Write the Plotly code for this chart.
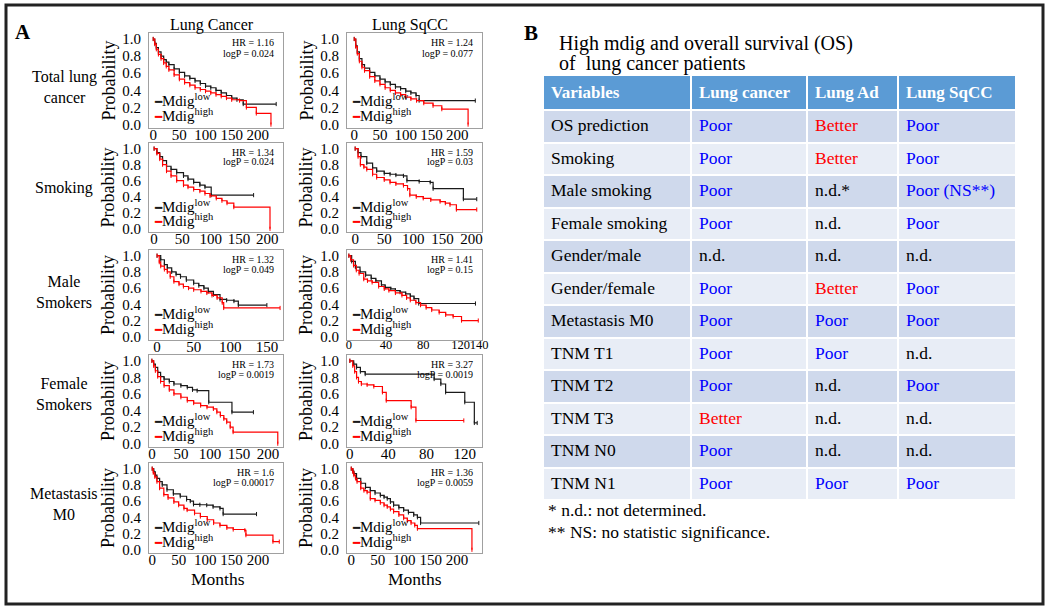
import plotly.graph_objects as go

W, H = 1050, 610
FONT = "Liberation Serif, Times New Roman, serif"

# ---------------- Panel A data (Kaplan-Meier step points, months / probability) ----------------
col_titles = ["Lung Cancer", "Lung SqCC"]
row_labels = ["Total lung<br>cancer", "Smoking", "Male<br>Smokers", "Female<br>Smokers", "Metastasis<br>M0"]

# Lung Cancer - Total
lc_total_low_t = [0, 3, 6, 10, 15, 20, 25, 30, 40, 50, 60, 70, 80, 90, 100, 110, 120, 130, 140, 150, 160, 172, 235]
lc_total_low_s = [1.0, 0.95, 0.90, 0.85, 0.80, 0.76, 0.73, 0.70, 0.65, 0.61, 0.57, 0.54, 0.51, 0.48, 0.45, 0.43, 0.40, 0.37, 0.34, 0.31, 0.29, 0.24, 0.24]
lc_total_high_t = [0, 3, 6, 10, 15, 20, 25, 30, 40, 50, 60, 70, 80, 90, 100, 110, 120, 130, 140, 150, 165, 178, 197, 225]
lc_total_high_s = [1.0, 0.94, 0.88, 0.82, 0.77, 0.72, 0.68, 0.64, 0.58, 0.53, 0.49, 0.46, 0.43, 0.41, 0.39, 0.37, 0.35, 0.33, 0.31, 0.29, 0.28, 0.20, 0.13, 0.0]
# Lung SqCC - Total
sq_total_low_t = [0, 3, 6, 10, 15, 20, 30, 40, 50, 60, 70, 80, 90, 100, 110, 120, 126, 235]
sq_total_low_s = [1.0, 0.92, 0.85, 0.77, 0.70, 0.66, 0.61, 0.57, 0.53, 0.50, 0.47, 0.44, 0.42, 0.39, 0.37, 0.34, 0.28, 0.28]
sq_total_high_t = [0, 3, 6, 10, 15, 20, 30, 40, 50, 60, 70, 80, 90, 100, 110, 121, 135, 153, 170, 221]
sq_total_high_s = [1.0, 0.91, 0.83, 0.74, 0.67, 0.63, 0.56, 0.51, 0.47, 0.43, 0.40, 0.37, 0.35, 0.32, 0.30, 0.28, 0.25, 0.22, 0.18, 0.0]
# Lung Cancer - Smoking
lc_smk_low_t = [0, 5, 10, 15, 22, 30, 40, 52, 60, 70, 81, 90, 101, 176]
lc_smk_low_s = [1.0, 0.95, 0.90, 0.85, 0.78, 0.74, 0.70, 0.66, 0.62, 0.58, 0.545, 0.52, 0.42, 0.42]
lc_smk_high_t = [0, 5, 10, 15, 22, 30, 40, 52, 60, 70, 81, 90, 99, 110, 120, 129, 141, 205]
lc_smk_high_s = [1.0, 0.94, 0.87, 0.80, 0.72, 0.66, 0.60, 0.545, 0.52, 0.49, 0.47, 0.44, 0.41, 0.38, 0.35, 0.32, 0.27, 0.0]
# Lung SqCC - Smoking
sq_smk_low_t = [0, 5, 10, 20, 30, 37, 50, 60, 70, 83, 89, 110, 129, 134, 186, 209]
sq_smk_low_s = [1.0, 0.95, 0.90, 0.82, 0.76, 0.72, 0.69, 0.68, 0.67, 0.66, 0.60, 0.59, 0.58, 0.50, 0.37, 0.37]
sq_smk_high_t = [0, 5, 9, 15, 20, 30, 37, 50, 60, 70, 83, 90, 94, 105, 117, 130, 146, 155, 163, 174, 209]
sq_smk_high_s = [1.0, 0.90, 0.80, 0.77, 0.74, 0.68, 0.64, 0.61, 0.58, 0.56, 0.54, 0.50, 0.42, 0.40, 0.38, 0.36, 0.34, 0.32, 0.30, 0.24, 0.24]
# Lung Cancer - Male smokers
lc_male_low_t = [0, 5, 10, 14, 20, 26, 32, 40, 50, 57, 64, 70, 77, 86, 95, 105, 111, 150]
lc_male_low_s = [1.0, 0.95, 0.89, 0.85, 0.80, 0.77, 0.74, 0.70, 0.66, 0.63, 0.60, 0.56, 0.52, 0.46, 0.45, 0.44, 0.39, 0.39]
lc_male_high_t = [0, 3, 5, 10, 14, 18, 23, 30, 36, 43, 50, 60, 68, 75, 82, 89, 91, 168]
lc_male_high_s = [1.0, 0.92, 0.87, 0.83, 0.80, 0.74, 0.68, 0.65, 0.62, 0.60, 0.58, 0.56, 0.54, 0.51, 0.48, 0.42, 0.355, 0.355]
# Lung SqCC - Male smokers
sq_male_low_t = [0, 3, 7, 12, 18, 24, 29, 35, 39, 45, 50, 55, 61, 66, 70, 75, 136]
sq_male_low_s = [1.0, 0.93, 0.86, 0.80, 0.76, 0.72, 0.69, 0.64, 0.61, 0.59, 0.57, 0.55, 0.53, 0.50, 0.47, 0.41, 0.41]
sq_male_high_t = [0, 2, 5, 8, 11, 16, 20, 25, 32, 38, 43, 50, 57, 62, 66, 72, 77, 83, 89, 97, 104, 112, 121, 139]
sq_male_high_s = [1.0, 0.95, 0.88, 0.82, 0.78, 0.71, 0.69, 0.67, 0.62, 0.59, 0.57, 0.54, 0.51, 0.48, 0.45, 0.42, 0.39, 0.36, 0.33, 0.30, 0.27, 0.25, 0.20, 0.20]
# Lung Cancer - Female smokers
lc_fem_low_t = [0, 3, 6, 10, 15, 21, 30, 38, 50, 61, 70, 78, 98, 138, 175]
lc_fem_low_s = [1.0, 0.96, 0.92, 0.86, 0.81, 0.78, 0.75, 0.72, 0.70, 0.68, 0.65, 0.64, 0.50, 0.38, 0.38]
lc_fem_high_t = [0, 3, 6, 10, 15, 21, 30, 38, 50, 61, 72, 84, 95, 106, 112, 118, 124, 129, 135, 140, 217]
lc_fem_high_s = [1.0, 0.94, 0.88, 0.81, 0.75, 0.70, 0.65, 0.60, 0.56, 0.52, 0.49, 0.46, 0.44, 0.42, 0.38, 0.34, 0.30, 0.26, 0.20, 0.14, 0.0]
# Lung SqCC - Female smokers
sq_fem_low_t = [0, 4, 7, 11, 16, 88, 95, 100, 120, 130, 133]
sq_fem_low_s = [1.0, 0.96, 0.92, 0.87, 0.84, 0.78, 0.72, 0.62, 0.50, 0.25, 0.25]
sq_fem_high_t = [0, 3, 5, 7, 9, 12, 18, 25, 34, 38, 64, 69, 119]
sq_fem_high_s = [1.0, 0.94, 0.87, 0.80, 0.75, 0.72, 0.71, 0.69, 0.62, 0.52, 0.44, 0.28, 0.28]
# Lung Cancer - Metastasis M0
lc_m0_low_t = [0, 3, 6, 9, 14, 19, 28, 40, 53, 65, 72, 78, 90, 103, 115, 128, 134, 197]
lc_m0_low_s = [1.0, 0.96, 0.92, 0.88, 0.84, 0.80, 0.74, 0.69, 0.66, 0.62, 0.60, 0.56, 0.555, 0.55, 0.53, 0.51, 0.44, 0.44]
lc_m0_high_t = [0, 2, 5, 9, 14, 22, 30, 41, 50, 60, 66, 80, 91, 104, 116, 128, 141, 153, 175, 177, 228, 240]
lc_m0_high_s = [1.0, 0.95, 0.90, 0.84, 0.76, 0.68, 0.64, 0.59, 0.55, 0.51, 0.49, 0.45, 0.41, 0.37, 0.33, 0.30, 0.27, 0.25, 0.24, 0.18, 0.10, 0.10]
# Lung SqCC - Metastasis M0
sq_m0_low_t = [0, 3, 5, 10, 18, 27, 36, 45, 55, 62, 68, 74, 80, 90, 99, 108, 118, 125, 131, 241]
sq_m0_low_s = [1.0, 0.97, 0.94, 0.88, 0.82, 0.77, 0.73, 0.70, 0.67, 0.65, 0.63, 0.59, 0.55, 0.52, 0.49, 0.46, 0.43, 0.40, 0.33, 0.33]
sq_m0_high_t = [0, 3, 5, 8, 11, 18, 24, 30, 36, 45, 55, 62, 68, 74, 80, 90, 99, 106, 113, 120, 125, 228]
sq_m0_high_s = [1.0, 0.96, 0.92, 0.88, 0.84, 0.76, 0.73, 0.71, 0.63, 0.61, 0.58, 0.55, 0.53, 0.50, 0.47, 0.43, 0.39, 0.36, 0.33, 0.30, 0.26, 0.0]

hr_labels = ["HR = 1.16", "HR = 1.24", "HR = 1.34", "HR = 1.59", "HR = 1.32",
             "HR = 1.41", "HR = 1.73", "HR = 3.27", "HR = 1.6", "HR = 1.36"]
logp_labels = ["logP = 0.024", "logP = 0.077", "logP = 0.024", "logP = 0.03", "logP = 0.049",
               "logP = 0.15", "logP = 0.0019", "logP = 0.0019", "logP = 0.00017", "logP = 0.0059"]
y_ticks = [0, 0.2, 0.4, 0.6, 0.8, 1.0]
x_ticks_50 = [0, 50, 100, 150, 200]
x_ticks_male_lc = [0, 50, 100, 150]
x_ticks_male_sq = [0, 40, 80, 120, 140]
x_ticks_fem_sq = [0, 40, 80, 120]

# ---------------- Panel B data ----------------
table_title = ["High mdig and overall survival (OS)", "of  lung cancer patients"]
table_header = ["Variables", "Lung cancer", "Lung Ad", "Lung SqCC"]
variables = ["OS prediction", "Smoking", "Male smoking", "Female smoking", "Gender/male",
             "Gender/female", "Metastasis M0", "TNM T1", "TNM T2", "TNM T3", "TNM N0", "TNM N1"]
lung_cancer = ["Poor", "Poor", "Poor", "Poor", "n.d.", "Poor", "Poor", "Poor", "Poor", "Better", "Poor", "Poor"]
lung_ad = ["Better", "Better", "n.d.*", "n.d.", "n.d.", "Better", "Poor", "Poor", "n.d.", "n.d.", "n.d.", "Poor"]
lung_sqcc = ["Poor", "Poor", "Poor (NS**)", "Poor", "n.d.", "Poor", "Poor", "n.d.", "Poor", "n.d.", "n.d.", "Poor"]
footnotes = ["* n.d.: not determined.", "** NS: no statistic significance."]

# ---------------- layout of panel A ----------------
LOW_C, HIGH_C = "#1a1a1a", "#ff0000"
plots = [
    dict(box=(149, 283, 33, 128), xr=[-8, 248], xt=x_ticks_50, low=(lc_total_low_t, lc_total_low_s), high=(lc_total_high_t, lc_total_high_s)),
    dict(box=(347, 482, 33, 128), xr=[-14, 248], xt=x_ticks_50, low=(sq_total_low_t, sq_total_low_s), high=(sq_total_high_t, sq_total_high_s)),
    dict(box=(149, 283, 143, 232), xr=[-9, 228], xt=x_ticks_50, low=(lc_smk_low_t, lc_smk_low_s), high=(lc_smk_high_t, lc_smk_high_s)),
    dict(box=(347, 482, 143, 232), xr=[-14, 218], xt=x_ticks_50, low=(sq_smk_low_t, sq_smk_low_s), high=(sq_smk_high_t, sq_smk_high_s)),
    dict(box=(149, 283, 250, 340), xr=[-11, 172], xt=x_ticks_male_lc, low=(lc_male_low_t, lc_male_low_s), high=(lc_male_high_t, lc_male_high_s)),
    dict(box=(347, 482, 250, 340), xr=[-2, 143], xt=x_ticks_male_sq, low=(sq_male_low_t, sq_male_low_s), high=(sq_male_high_t, sq_male_high_s)),
    dict(box=(149, 283, 355, 447), xr=[-5, 226], xt=x_ticks_50, low=(lc_fem_low_t, lc_fem_low_s), high=(lc_fem_high_t, lc_fem_high_s)),
    dict(box=(347, 482, 355, 447), xr=[-3, 138], xt=x_ticks_fem_sq, low=(sq_fem_low_t, sq_fem_low_s), high=(sq_fem_high_t, sq_fem_high_s)),
    dict(box=(149, 283, 463, 553), xr=[-6, 247], xt=x_ticks_50, low=(lc_m0_low_t, lc_m0_low_s), high=(lc_m0_high_t, lc_m0_high_s)),
    dict(box=(347, 482, 463, 553), xr=[-8, 247], xt=x_ticks_50, low=(sq_m0_low_t, sq_m0_low_s), high=(sq_m0_high_t, sq_m0_high_s)),
]


def px(x):
    return x / W


def py(y):
    return 1 - y / H


fig = go.Figure()
annotations = []
layout_axes = {}

for i, p in enumerate(plots, start=1):
    l, r, t, b = p["box"]
    sx = "" if i == 1 else str(i)
    for (tt, ss), col in ((p["low"], LOW_C), (p["high"], HIGH_C)):
        fig.add_trace(go.Scatter(
            x=tt, y=ss, mode="lines+markers",
            line=dict(shape="hv", color=col, width=1.2),
            marker=dict(symbol="line-ns", size=3, line=dict(width=1, color=col)),
            xaxis="x" + sx, yaxis="y" + sx, showlegend=False, hoverinfo="skip"))
    axis_common = dict(showline=True, mirror=True, linecolor="#a0a0a0", linewidth=1,
                       showgrid=False, zeroline=False, ticks="", automargin=False)
    xfont = 12.5 if p["xt"] is x_ticks_male_sq else 15
    layout_axes["xaxis" + sx] = dict(domain=[px(l), px(r)], range=p["xr"], tickvals=p["xt"],
                                     tickangle=0, ticklabelstandoff=-7,
                                     tickfont=dict(family=FONT, size=xfont, color="black"),
                                     anchor="y" + sx, **axis_common)
    layout_axes["yaxis" + sx] = dict(domain=[py(b), py(t)], range=[-0.04, 1.07], tickvals=y_ticks,
                                     tickformat=".1f", ticklabelstandoff=4,
                                     tickfont=dict(family=FONT, size=15, color="black"),
                                     anchor="x" + sx, **axis_common)
    # HR / logP
    annotations.append(dict(text=hr_labels[i - 1], xref="x" + sx + " domain", x=0.945, xanchor="right",
                            yref="y" + sx, y=0.955, yanchor="middle", showarrow=False,
                            font=dict(family=FONT, size=10, color="black")))
    annotations.append(dict(text=logp_labels[i - 1], xref="x" + sx + " domain", x=0.945, xanchor="right",
                            yref="y" + sx, y=0.835, yanchor="middle", showarrow=False,
                            font=dict(family=FONT, size=10, color="black")))
    # legend entries
    annotations.append(dict(text="<span style='color:%s;font-size:12px'>━</span>Mdig<sup>low</sup>" % LOW_C,
                            xref="x" + sx + " domain", x=0.02, xanchor="left",
                            yref="y" + sx, y=0.29, yanchor="middle", showarrow=False,
                            font=dict(family=FONT, size=15, color="black")))
    annotations.append(dict(text="<span style='color:%s;font-size:12px'>━</span>Mdig<sup>high</sup>" % HIGH_C,
                            xref="x" + sx + " domain", x=0.02, xanchor="left",
                            yref="y" + sx, y=0.11, yanchor="middle", showarrow=False,
                            font=dict(family=FONT, size=15, color="black")))
    # Probability label
    annotations.append(dict(text="Probability", xref="paper", yref="paper",
                            x=px(l - 41), y=py((t + b) / 2), textangle=-90, showarrow=False,
                            xanchor="center", yanchor="middle",
                            font=dict(family=FONT, size=18, color="black")))


def add_text(text, x, y, size, xanchor="center", bold=False, color="black"):
    annotations.append(dict(text=("<b>%s</b>" % text) if bold else text, xref="paper", yref="paper",
                            x=px(x), y=py(y), xanchor=xanchor, yanchor="middle", showarrow=False,
                            font=dict(family=FONT, size=size, color=color)))


add_text("A", 23, 32, 21, bold=True)
add_text("B", 531, 33, 21, bold=True)
add_text(col_titles[0], 212, 25, 16)
add_text(col_titles[1], 410, 25, 16)
for lab, yc in zip(row_labels, [87, 188, 292, 394, 504]):
    add_text(lab, 64, yc, 16)
add_text("Months", 218, 579, 17.5)
add_text("Months", 415, 579, 17.5)

# Panel B texts
add_text(table_title[0], 557, 43, 20, xanchor="left")
add_text(table_title[1], 557, 63, 20, xanchor="left")
add_text(footnotes[0], 546, 510, 17.5, xanchor="left")
add_text(footnotes[1], 546, 532, 17.5, xanchor="left")


def value_color(v):
    if v.startswith("Poor"):
        return "#0000ff"
    if v.startswith("Better"):
        return "#ff0000"
    return "black"


row_fill = ["#cfd9ec" if k % 2 == 0 else "#e8edf6" for k in range(len(variables))]
cols = [variables, lung_cancer, lung_ad, lung_sqcc]
font_colors = [["black"] * len(variables)] + [[value_color(v) for v in c] for c in cols[1:]]

fig.add_trace(go.Table(
    domain=dict(x=[px(543), px(1016)], y=[py(502), py(75)]),
    columnwidth=[148, 116, 91, 118],
    header=dict(values=["<b>%s</b>" % h for h in table_header], fill_color="#5b9bd5",
                font=dict(family=FONT, size=17, color="white"), align="left", height=30,
                line=dict(color="white", width=2)),
    cells=dict(values=cols, fill_color=[row_fill] * 4,
               font=dict(family=FONT, size=17.5, color=font_colors), align="left", height=32.5,
               line=dict(color="white", width=2)),
))

fig.update_layout(
    width=W, height=H, margin=dict(l=0, r=0, t=0, b=0, autoexpand=False),
    paper_bgcolor="white", plot_bgcolor="white", showlegend=False,
    annotations=annotations,
    shapes=[dict(type="rect", xref="paper", yref="paper", x0=px(6), x1=px(1043), y0=py(604), y1=py(5),
                 line=dict(color="#222222", width=3))],
    **layout_axes,
)

fig.write_html("out.html", config={"displayModeBar": False},
               post_script="document.body.style.margin='0px';")
